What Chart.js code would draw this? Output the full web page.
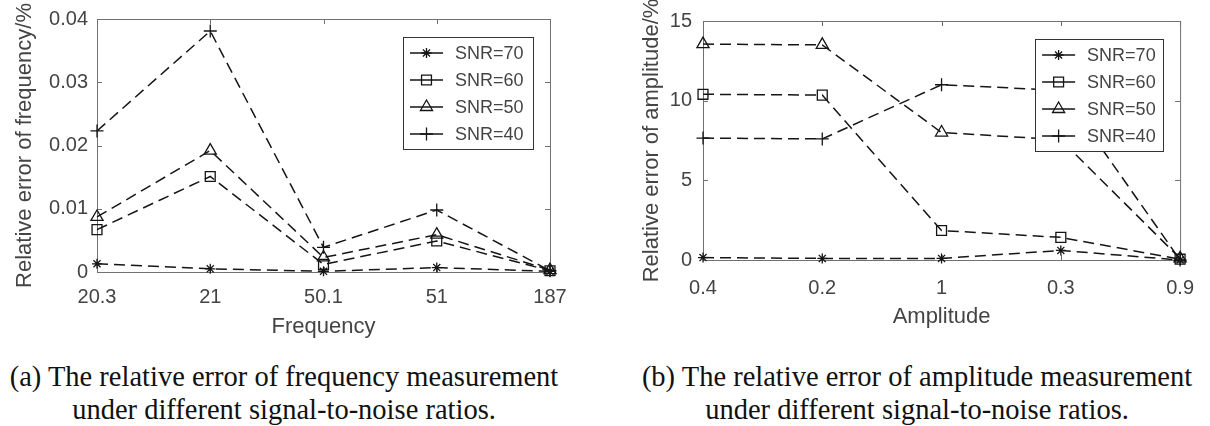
<!DOCTYPE html>
<html lang="en">
<head>
<meta charset="UTF-8">
<title>Relative error under different SNR</title>
<script src="https://cdn.jsdelivr.net/npm/chart.js"></script>
<style>
    body {
        margin: 0;
        width: 1210px;
        height: 426px;
        position: relative;
        overflow: hidden;
        background: #fff;
        font-family: Arial, "Liberation Sans", sans-serif;
    }

    .plot {
        position: absolute;
        top: 0;
        height: 345px;
    }

    #freqBox { left: 0; width: 600px; }
    #ampBox { left: 600px; width: 610px; }

    .caption {
        position: absolute;
        top: 360px;
        font-family: "Liberation Serif", "Times New Roman", serif;
        font-size: 28.5px;
        line-height: 33px;
        text-align: center;
        color: #111;
        white-space: nowrap;
    }
</style>
</head>
<body>
<div class="plot" id="freqBox"><canvas id="freqChart"></canvas></div>
<div class="plot" id="ampBox"><canvas id="ampChart"></canvas></div>

<div class="caption" style="left:0; width:568px;">(a) The relative error of frequency measurement<br>under different signal-to-noise ratios.</div>
<div class="caption" style="left:626px; width:582px;">(b) The relative error of amplitude measurement<br>under different signal-to-noise ratios.</div>

<script>
    // categories
    const freqLabels = ['20.3', '21', '50.1', '51', '187'];
    const ampLabels = ['0.4', '0.2', '1', '0.3', '0.9'];
    const snrNames = ['SNR=70', 'SNR=60', 'SNR=50', 'SNR=40'];

    // relative error of frequency (%)
    const freqSnr70 = [0.0013, 0.0005, 0.0001, 0.0007, 0.0001];
    const freqSnr60 = [0.0067, 0.0151, 0.0012, 0.0049, 0.0002];
    const freqSnr50 = [0.0087, 0.0192, 0.0023, 0.0059, 0.0003];
    const freqSnr40 = [0.0223, 0.0381, 0.0039, 0.0098, 0.0002];

    // relative error of amplitude (%)
    const ampSnr70 = [0.15, 0.1, 0.1, 0.6, 0.0];
    const ampSnr60 = [10.4, 10.35, 1.85, 1.42, 0.05];
    const ampSnr50 = [13.55, 13.5, 8.0, 7.55, 0.1];
    const ampSnr40 = [7.65, 7.6, 11.0, 10.65, 0.0];

    const markers = ['star', 'rect', 'triangle', 'cross'];
    const markerSize = [5, 7, 7, 6.5];
    const ink = '#151515';
    const textGray = '#444';
    const axisGray = '#707070';

    function makeSets(series) {
        return series.map((d, i) => ({
            label: snrNames[i],
            data: d,
            borderColor: ink,
            borderWidth: 1.5,
            borderDash: [11, 6],
            fill: false,
            tension: 0,
            clip: false,
            pointStyle: markers[i],
            pointRadius: markerSize[i],
            pointBorderColor: ink,
            pointBackgroundColor: 'rgba(0,0,0,0)',
            pointBorderWidth: 1.3
        }));
    }

    // box around plot area with inward ticks (matlab look)
    const boxPlugin = {
        id: 'boxAxes',
        beforeDatasetsDraw(chart) {
            const {ctx, chartArea: a, scales} = chart;
            ctx.save();
            ctx.strokeStyle = axisGray;
            ctx.lineWidth = 1;
            ctx.strokeRect(a.left + 0.5, a.top + 0.5, a.right - a.left, a.bottom - a.top);
            const len = 5;
            ctx.beginPath();
            scales.x.ticks.forEach((t, i) => {
                const px = Math.round(scales.x.getPixelForTick(i)) + 0.5;
                ctx.moveTo(px, a.bottom); ctx.lineTo(px, a.bottom - len);
                ctx.moveTo(px, a.top); ctx.lineTo(px, a.top + len);
            });
            scales.y.ticks.forEach(t => {
                const py = Math.round(scales.y.getPixelForValue(t.value)) + 0.5;
                ctx.moveTo(a.left, py); ctx.lineTo(a.left + len, py);
                ctx.moveTo(a.right, py); ctx.lineTo(a.right - len, py);
            });
            ctx.stroke();
            ctx.restore();
        },
        afterDraw(chart, args, opts) {
            // legend box inside the plot, top right
            const {ctx, chartArea: a} = chart;
            const w = opts.width, h = opts.height;
            const left = a.right - opts.right - w;
            const top = a.top + opts.top;
            ctx.save();
            ctx.fillStyle = '#fff';
            ctx.fillRect(left, top, w, h);
            ctx.strokeStyle = '#333';
            ctx.lineWidth = 1;
            ctx.strokeRect(Math.round(left) + 0.5, Math.round(top) + 0.5, w, h);
            ctx.font = '18px Arial';
            ctx.textBaseline = 'middle';
            chart.data.datasets.forEach((ds, i) => {
                const y = top + 16 + i * 27;
                ctx.strokeStyle = ink;
                ctx.lineWidth = 1.4;
                ctx.setLineDash([]);
                ctx.beginPath();
                ctx.moveTo(left + 7, y);
                ctx.lineTo(left + 40, y);
                ctx.stroke();
                ctx.lineWidth = 1.3;
                ctx.fillStyle = 'rgba(0,0,0,0)';
                Chart.helpers.drawPoint(ctx, {pointStyle: ds.pointStyle, radius: ds.pointRadius, rotation: 0, borderWidth: 1.3}, left + 23.5, y);
                ctx.fillStyle = textGray;
                ctx.fillText(ds.label, left + 52, y + 1);
            });
            ctx.restore();
        }
    };

    function makeChart(id, labels, series, yMax, yStep, xTitle, yTitle, lay) {
        return new Chart(document.getElementById(id), {
            type: 'line',
            data: { labels: labels, datasets: makeSets(series) },
            plugins: [boxPlugin],
            options: {
                responsive: true,
                maintainAspectRatio: false,
                animation: false,
                layout: { padding: { top: lay.top, right: lay.right, left: 0, bottom: 0 } },
                plugins: {
                    legend: { display: false },
                    tooltip: { enabled: false },
                    boxAxes: { width: lay.legW, height: 112, right: 17, top: 18 }
                },
                scales: {
                    x: {
                        type: 'category',
                        offset: false,
                        grid: { display: false, drawTicks: false },
                        border: { display: false },
                        ticks: {
                            color: textGray, padding: lay.xPad, maxRotation: 0, autoSkip: false,
                            font: { family: 'Arial', size: 20 }
                        },
                        title: {
                            display: true, text: xTitle, color: textGray,
                            font: { family: 'Arial', size: 22 },
                            padding: { top: 0, bottom: lay.xTitlePad }
                        },
                        afterFit(s) { s.height = lay.xH; }
                    },
                    y: {
                        min: 0, max: yMax,
                        grid: { display: false, drawTicks: false },
                        border: { display: false },
                        ticks: {
                            stepSize: yStep, color: textGray, padding: lay.yPad,
                            font: { family: 'Arial', size: 20, lineHeight: 1 }
                        },
                        title: {
                            display: true, text: yTitle, color: textGray,
                            font: { family: 'Arial', size: 22 },
                            padding: { top: lay.yTitlePad, bottom: 0 }
                        },
                        afterFit(s) { s.width = lay.yW; }
                    }
                }
            }
        });
    }

    makeChart('freqChart', freqLabels, [freqSnr70, freqSnr60, freqSnr50, freqSnr40],
        0.04, 0.01, 'Frequency', 'Relative error of frequency/%',
        { top: 12, right: 50, xH: 73, yW: 97, xPad: 13, yPad: 9, xTitlePad: 5, yTitlePad: 12, legW: 130 });

    makeChart('ampChart', ampLabels, [ampSnr70, ampSnr60, ampSnr50, ampSnr40],
        15, 5, 'Amplitude', 'Relative error of amplitude/%',
        { top: 11, right: 22, xH: 85, yW: 103, xPad: 16, yPad: 11, xTitlePad: 15, yTitlePad: 39, legW: 128 });
</script>
</body>
</html>
